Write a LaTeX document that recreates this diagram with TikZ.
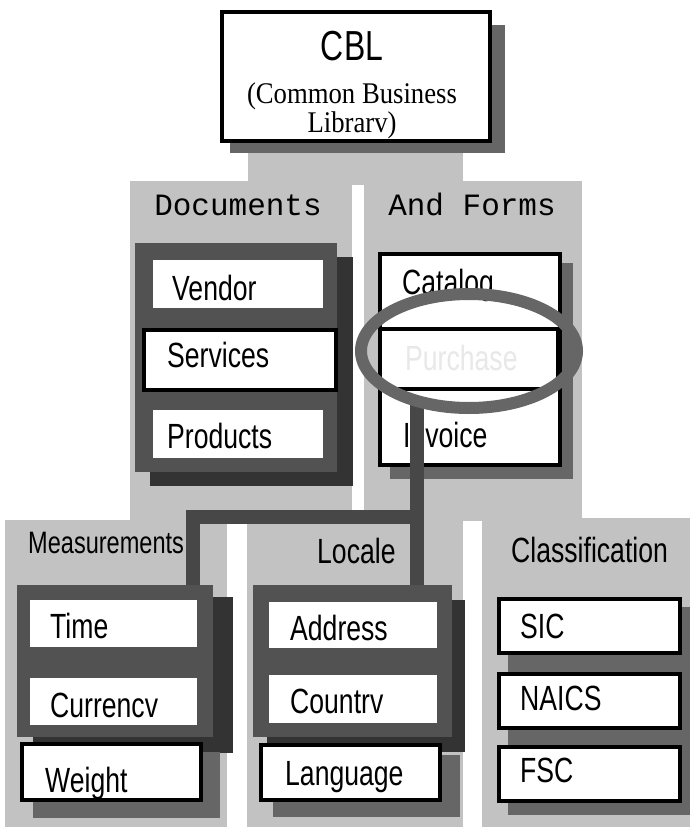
\documentclass[tikz,border=0pt]{standalone}
\usepackage{fontspec}
\setmainfont{Liberation Serif}
\newfontfamily\nsans[FakeStretch=0.76]{Liberation Sans}
\newfontfamily\nserif[FakeStretch=0.89]{Liberation Serif}
\newfontfamily\cmono{Liberation Mono}
\usetikzlibrary{shapes.geometric}
\newcommand\rbox[6]{\node[#2, minimum width={#5-#3}, minimum height={#6-#4}, inner sep=0, outer sep=0] (#1) at ({(#3+#5)/2},{(#4+#6)/2}) {};}
\begin{document}
\begin{tikzpicture}[x=1pt,y=-1pt,
  panel/.style={fill=black!24, draw=none},
  stack/.style={fill=black!68, draw=none},
  stackb/.style={fill=black!80, draw=none},
  shade/.style={fill=black!60, draw=none},
  wbox/.style={fill=white, draw=none},
  bbox/.style={fill=white, draw=black, line width=3.5},
  lbl/.style={font=\nsans\fontsize{35}{38}\selectfont, anchor=base west, inner sep=0},
  hdr/.style={font=\cmono\fontsize{31}{33}\selectfont, anchor=base, inner sep=0},
  conn/.style={draw=black!72, line width=14, line cap=butt, line join=miter},
  ring/.style={draw=black!60, line width=12, ellipse, inner sep=0}
]
\useasboundingbox (0,0) rectangle (690,827);

% panels
\rbox{pTop}{panel}{248}{150}{463}{185}
\rbox{pDoc}{panel}{130}{181}{352}{521}
\rbox{pForm}{panel}{364}{181}{582}{521}
\rbox{pMeas}{panel}{5}{520}{227}{827}
\rbox{pLoc}{panel}{247}{520}{463}{827}
\rbox{pCls}{panel}{482}{518}{690}{827}

% CBL
\rbox{cblShadow}{shade}{230}{25}{505}{153}
\rbox{cbl}{bbox, line width=4}{222}{12}{490}{141}
\node[font=\nsans\fontsize{42}{44}\selectfont, anchor=base, inner sep=0] (tCBL) at (352,60) {CBL};
\node[font=\nserif\fontsize{30}{27}\selectfont, align=center, anchor=base, inner sep=0] (tCBL2) at (352,132) {(Common Business\\Librarv)};

% Documents
\node[hdr] (tDoc) at (238,215) {Documents};
\rbox{docShadow}{stackb}{150}{257}{353}{486}
\rbox{docStack}{stack}{135}{243}{337}{472}
\rbox{bVendor}{wbox}{153}{260}{323}{308}
\rbox{bServices}{bbox}{144}{330}{336}{390}
\rbox{bProducts}{wbox}{153}{410}{323}{458}
\node[lbl] (tVendor) at (172,300) {Vendor};
\node[lbl] (tServices) at (167,367) {Services};
\node[lbl] (tProducts) at (167,448) {Products};

% And Forms
\node[hdr] (tForms) at (472,215) {And Forms};
\rbox{formShadow}{shade}{390}{263}{573}{479}
\rbox{bForms}{bbox}{380}{254}{560}{465}
\rbox{bQuote}{bbox}{380}{329}{558}{389}
\node[lbl] (tCatalog) at (402,294) {Catalog};
\node[lbl, text=black!9] (tQuote) at (405,370) {Purchase};
\node[lbl] (tInvoice) at (403,447) {Invoice};

% headers of lower panels
\node[lbl, font=\nsans\fontsize{31}{33}\selectfont] (tMeas) at (28,553) {Measurements};
\node[lbl] (tLocale) at (317,563) {Locale};
\node[lbl] (tClass) at (511,562) {Classification};

% connectors
\coordinate (cO) at (417,401);
\coordinate (j) at (417,517);
\coordinate (jL) at (193,517);
\coordinate (mTop) at (193,588);
\coordinate (lTop) at (417,586);
\draw[conn] (cO) -- (j) -- (jL) -- (mTop);
\draw[conn] (j) -- (lTop);

% highlight ring
\node[ring, minimum width=216, minimum height=114] (oval) at (469,351) {};

% Measurements stack
\rbox{mShadow}{stackb}{33}{597}{233}{753}
\rbox{mStack}{stack}{17}{585}{213}{737}
\rbox{bTime}{wbox}{30}{600}{197}{647}
\rbox{bCurr}{wbox}{30}{678}{197}{725}
\rbox{wShadow}{shade}{33}{752}{220}{818}
\rbox{bWeight}{bbox}{22}{744}{201}{800}
\node[lbl] (tTime) at (50,638) {Time};
\node[lbl] (tCurr) at (50,717) {Currencv};
\node[lbl] (tWeight) at (45,792) {Weight};

% Locale stack
\rbox{lShadow}{stackb}{267}{600}{465}{752}
\rbox{lStack}{stack}{253}{585}{452}{737}
\rbox{bAddr}{wbox}{269}{602}{437}{648}
\rbox{bCountry}{wbox}{269}{675}{437}{723}
\rbox{langShadow}{shade}{273}{755}{460}{817}
\rbox{bLang}{bbox}{261}{745}{440}{800}
\node[lbl] (tAddr) at (290,640) {Address};
\node[lbl] (tCountry) at (290,713) {Countrv};
\node[lbl] (tLang) at (285,785) {Language};

% Classification stack
\rbox{cShadow}{shade}{508}{607}{690}{815}
\rbox{bSIC}{bbox}{499}{599}{680}{653}
\rbox{bNAICS}{bbox}{499}{674}{680}{728}
\rbox{bFSC}{bbox}{499}{747}{680}{801}
\node[lbl] (tSIC) at (520,638) {SIC};
\node[lbl] (tNAICS) at (520,710) {NAICS};
\node[lbl] (tFSC) at (520,782) {FSC};
\end{tikzpicture}
\end{document}
